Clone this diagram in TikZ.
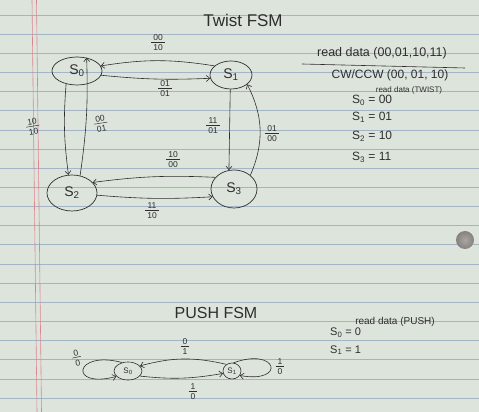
\documentclass[tikz,border=0pt]{standalone}
\usepackage{fontspec}
\setmainfont{Liberation Sans}
\usetikzlibrary{shapes.geometric,arrows.meta}
\definecolor{paper}{HTML}{DDE4DC}
\definecolor{ruling}{HTML}{A3B4C4}
\definecolor{marginred}{HTML}{D9868E}
\definecolor{ink}{HTML}{2E2E2E}
\definecolor{holein}{HTML}{AAA6A4}
\definecolor{holeout}{HTML}{86817F}
% stacked input/output label: input over a bar over output
\newcommand\frc[2]{\setlength{\arrayrulewidth}{0.5pt}%
  \begin{tabular}{@{\hspace{2pt}}c@{\hspace{2pt}}}#1\\[-1.5pt]\hline\rule{0pt}{8.5pt}#2\end{tabular}}
\begin{document}
\begin{tikzpicture}[x=1pt,y=1pt,
  state/.style={ellipse,draw=ink,line width=0.7pt,inner sep=0pt,text=ink,
    font=\fontsize{14}{14}\selectfont},
  pstate/.style={ellipse,draw=ink,line width=0.6pt,inner sep=0pt,text=ink,
    font=\fontsize{8}{8}\selectfont},
  trans/.style={draw=ink,line width=0.6pt,-{Straight Barb[length=3.5pt,width=6pt]}},
  lbl/.style={text=ink,font=\fontsize{8.5}{9}\selectfont,inner sep=0pt},
  note/.style={text=ink,inner sep=0pt},
]
% paper, ruling, margin and punch hole
\fill[paper] (0,0) rectangle (479,412);
\useasboundingbox (0,0) rectangle (479,412);
\foreach \k in {0,...,20}
  \draw[ruling,line width=0.6pt] (0,{397-19.15*\k}) -- (479,{397-19.15*\k});
\draw[marginred,line width=0.6pt] (32,412) -- (37,0);
\draw[marginred,line width=0.6pt] (36.5,412) -- (41.5,0);
\shade[inner color=holein,outer color=holeout] (465,172) circle (9);

% ---------------- Twist FSM ----------------
\node[note,font=\fontsize{17}{17}\selectfont] (tt) at (243,392) {Twist FSM};

\node[state,minimum width=50pt,minimum height=28pt] (s0) at (77,341) {S\textsubscript{0}};
\node[state,minimum width=42pt,minimum height=28pt] (s1) at (231,337) {S\textsubscript{1}};
\node[state,minimum width=50pt,minimum height=36pt] (s2) at (72,219) {S\textsubscript{2}};
\node[state,minimum width=46pt,minimum height=38pt] (s3) at (234,223) {S\textsubscript{3}};

\draw[trans] (s1.151) to[bend right=9] (s0.12);
\draw[trans] (s0.-10) to[bend right=4] (s1.189);
\draw[trans] (s0.230) to[bend right=6] (s2.101);
\draw[trans] (s2.65) to[bend right=5] (s0.54);
\draw[trans] (s1.267) -- (s3.105);
\draw[trans] (s3.40) to[bend right=25] (s1.-30);
\draw[trans] (s3.148) to[bend right=5] (s2.27);
\draw[trans] (s2.-5) to[bend right=4] (s3.200);

\node[lbl] (l1) at (158,368) {\frc{00}{10}};
\node[lbl] (l2) at (165,322) {\frc{01}{01}};
\node[lbl,rotate=9] (l3) at (33,284) {\frc{10}{10}};
\node[lbl,rotate=9] (l4) at (101,287) {\frc{00}{01}};
\node[lbl] (l5) at (213,285) {\frc{11}{01}};
\node[lbl] (l6) at (272,277) {\frc{01}{00}};
\node[lbl] (l7) at (173,251) {\frc{10}{00}};
\node[lbl] (l8) at (152,200) {\frc{11}{10}};

% encoding notes
\node[note,font=\fontsize{12.5}{13}\selectfont] (rd) at (382,359) {read data (00,01,10,11)};
\draw[ink,line width=0.6pt] (302,348) -- (465,344);
\node[note,font=\fontsize{12}{13}\selectfont] (cw) at (390,337) {CW/CCW (00, 01, 10)};
\node[note,font=\fontsize{8}{9}\selectfont] (rdt) at (409,322) {read data (TWIST)};
\node[note,anchor=west,font=\fontsize{12}{13}\selectfont] (e0) at (352,312) {S\textsubscript{0} = 00};
\node[note,anchor=west,font=\fontsize{12}{13}\selectfont] (e1) at (352,295) {S\textsubscript{1} = 01};
\node[note,anchor=west,font=\fontsize{12}{13}\selectfont] (e2) at (352,276) {S\textsubscript{2} = 10};
\node[note,anchor=west,font=\fontsize{12}{13}\selectfont] (e3) at (352,255) {S\textsubscript{3} = 11};

% ---------------- Push FSM ----------------
\node[note,font=\fontsize{16}{16}\selectfont] (pt) at (216,99) {PUSH FSM};

\node[pstate,minimum width=28pt,minimum height=18pt] (p0) at (128,41) {S\textsubscript{0}};
\node[pstate,minimum width=18pt,minimum height=16pt] (p1) at (232,41) {S\textsubscript{1}};

\draw[trans] (p1.130) to[bend right=14] (p0.23);
\draw[trans] (p0.-23) to[bend right=8] (p1.195);
\draw[trans] (p0.125) to[out=165,in=195,looseness=8.5] (p0.205);
\draw[trans] (p1.80) to[out=20,in=-10,looseness=8.5] (p1.-30);

\node[lbl] (m1) at (185,64) {\frc{0}{1}};
\node[lbl] (m2) at (193,19) {\frc{1}{0}};
\node[lbl,rotate=12] (m3) at (77,53) {\frc{0}{0}};
\node[lbl] (m4) at (280,44) {\frc{1}{0}};

\node[note,font=\fontsize{10}{11}\selectfont] (rdp) at (395,90) {read data (PUSH)};
\node[note,anchor=west,font=\fontsize{11}{12}\selectfont] (f0) at (330,79) {S\textsubscript{0} = 0};
\node[note,anchor=west,font=\fontsize{11}{12}\selectfont] (f1) at (330,62) {S\textsubscript{1} = 1};
\end{tikzpicture}
\end{document}
